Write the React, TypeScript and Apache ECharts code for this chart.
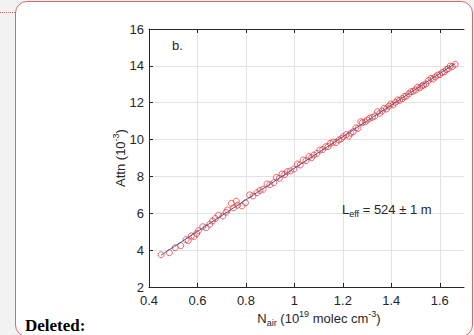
import React, { useEffect, useRef } from 'react';
import * as echarts from 'echarts';

// N_air (1e19 molec cm^-3)
const nAir: number[] = [
  0.450, 0.484, 0.508, 0.531, 0.553, 0.562, 0.575, 0.586, 0.597, 0.604,
  0.622, 0.636, 0.651, 0.662, 0.674, 0.687, 0.705, 0.718, 0.724, 0.740,
  0.749, 0.760, 0.766, 0.784, 0.798, 0.815, 0.829, 0.846, 0.858, 0.871,
  0.887, 0.899, 0.915, 0.926, 0.938, 0.949, 0.960, 0.970, 0.984, 0.998,
  1.012, 1.024, 1.036, 1.048, 1.060, 1.071, 1.080, 1.093, 1.105, 1.117,
  1.129, 1.139, 1.149, 1.160, 1.172, 1.184, 1.194, 1.202, 1.214, 1.225,
  1.233, 1.243, 1.254, 1.263, 1.274, 1.281, 1.292, 1.301, 1.310, 1.322,
  1.332, 1.343, 1.352, 1.362, 1.370, 1.380, 1.390, 1.398, 1.407, 1.417,
  1.426, 1.434, 1.445, 1.453, 1.462, 1.472, 1.481, 1.490, 1.500, 1.508,
  1.517, 1.526, 1.533, 1.543, 1.553, 1.564, 1.572, 1.582, 1.591, 1.600,
  1.610, 1.619, 1.627, 1.635, 1.643, 1.652, 1.664,
];

// Attn (1e-3)
const attn: number[] = [
  3.75, 3.86, 4.13, 4.24, 4.57, 4.52, 4.77, 4.74, 4.90, 5.05,
  5.27, 5.22, 5.40, 5.58, 5.72, 5.90, 5.85, 6.06, 6.18, 6.54,
  6.30, 6.66, 6.44, 6.40, 6.57, 7.00, 6.94, 7.12, 7.24, 7.30,
  7.59, 7.55, 7.66, 7.95, 7.90, 8.13, 8.10, 8.26, 8.30, 8.40,
  8.67, 8.62, 8.89, 8.86, 9.07, 9.02, 9.16, 9.25, 9.43, 9.46,
  9.61, 9.62, 9.80, 9.86, 9.84, 9.98, 10.05, 10.16, 10.27, 10.19,
  10.35, 10.43, 10.64, 10.61, 10.97, 10.92, 10.96, 11.06, 11.15, 11.21,
  11.28, 11.51, 11.42, 11.55, 11.70, 11.66, 11.82, 11.93, 11.88, 12.02,
  12.15, 12.12, 12.22, 12.33, 12.36, 12.48, 12.60, 12.62, 12.69, 12.84,
  12.80, 12.90, 12.96, 13.02, 13.20, 13.32, 13.28, 13.40, 13.50, 13.52,
  13.64, 13.68, 13.80, 13.84, 13.99, 13.96, 14.08,
];

const xTicks: number[] = [0.4, 0.6, 0.8, 1.0, 1.2, 1.4, 1.6];

const panelLabel = 'b.';
const fitLabel = '524 ± 1 m';

const FONT = '"Liberation Sans", Arial, Helvetica, sans-serif';
const TXT = '#262626';
const GRID = '#e3e3e3';

function linearFit(xs: number[], ys: number[]) {
  const n = xs.length;
  let sx = 0, sy = 0, sxx = 0, sxy = 0;
  for (let i = 0; i < n; i++) {
    sx += xs[i]; sy += ys[i]; sxx += xs[i] * xs[i]; sxy += xs[i] * ys[i];
  }
  const b = (n * sxy - sx * sy) / (n * sxx - sx * sx);
  const a = (sy - b * sx) / n;
  return { a, b };
}

export default function App() {
  const ref = useRef<HTMLDivElement>(null);

  useEffect(() => {
    if (!ref.current) return;
    const chart = echarts.init(ref.current, undefined, { renderer: 'svg' });
    const { a, b } = linearFit(nAir, attn);
    const xmin = Math.min(...nAir);
    const xmax = Math.max(...nAir);
    const points = nAir.map((x, i) => [x, attn[i]]);

    const richBase = {
      n: { fontSize: 13, lineHeight: 18, color: TXT, fontFamily: FONT, fontWeight: 'normal' as const, verticalAlign: 'middle' as const },
      s: { fontSize: 9, lineHeight: 9, color: TXT, fontFamily: FONT, fontWeight: 'normal' as const, verticalAlign: 'bottom' as const },
      p: { fontSize: 9, lineHeight: 9, color: TXT, fontFamily: FONT, fontWeight: 'normal' as const, verticalAlign: 'top' as const },
    };

    const splitColors = xTicks.map(() => GRID).concat(['rgba(0,0,0,0)']);

    chart.setOption({
      animation: false,
      backgroundColor: 'transparent',
      textStyle: { fontFamily: FONT },
      title: {
        text: `{n|L}{s|eff}{n| = ${fitLabel}}`,
        left: 342,
        top: 200,
        padding: 0,
        textStyle: { fontWeight: 'normal', rich: richBase },
      },
      grid: { left: 149, top: 29, width: 315, height: 258, containLabel: false },
      xAxis: [
        {
          type: 'value',
          min: 0.4,
          max: 1.7,
          interval: 0.2,
          position: 'bottom',
          axisLine: { show: true, lineStyle: { color: TXT, width: 1 } },
          axisTick: { show: true, inside: true, length: 4, lineStyle: { color: TXT }, customValues: xTicks },
          axisLabel: {
            show: true, margin: 7, fontSize: 13, color: TXT, fontFamily: FONT,
            customValues: xTicks,
            formatter: (v: number) => (Math.round(v * 10) / 10).toString(),
          },
          splitLine: { show: true, lineStyle: { color: splitColors, width: 1 } },
          name: '{n|N}{s|air}{n| (10}{p|19}{n| molec cm}{p|-3}{n|)}',
          nameLocation: 'middle',
          nameGap: 22,
          nameMoveOverlap: false,
          nameTextStyle: { rich: richBase, padding: [0, 0, 0, 25] },
        },
        {
          type: 'value',
          min: 0.4,
          max: 1.7,
          interval: 0.2,
          position: 'top',
          axisLine: { show: true, lineStyle: { color: TXT, width: 1 } },
          axisTick: { show: true, inside: true, length: 4, lineStyle: { color: TXT }, customValues: xTicks },
          axisLabel: { show: false },
          splitLine: { show: false },
        },
      ],
      yAxis: {
        type: 'value',
        min: 2,
        max: 16,
        interval: 2,
        axisLine: { show: true, lineStyle: { color: TXT, width: 1 } },
        axisTick: { show: true, inside: true, length: 4, lineStyle: { color: TXT } },
        axisLabel: { show: true, margin: 5, fontSize: 13, color: TXT, fontFamily: FONT },
        splitLine: { show: true, lineStyle: { color: GRID, width: 1 } },
        name: '{n|Attn (10}{p|-3}{n|)}',
        nameLocation: 'middle',
        nameGap: 20,
        nameMoveOverlap: false,
        nameTextStyle: { rich: richBase },
      },
      series: [
        {
          type: 'scatter',
          name: 'Attn',
          data: points,
          symbol: 'circle',
          symbolSize: 6,
          itemStyle: { color: 'rgba(0,0,0,0)', borderColor: '#f02828', borderWidth: 0.9 },
          z: 2,
        },
        {
          type: 'line',
          name: 'Fit',
          data: [[xmin, a + b * xmin], [xmax, a + b * xmax]],
          showSymbol: false,
          symbol: 'none',
          lineStyle: { color: '#3a5ca4', width: 1 },
          z: 3,
        },
      ],
      graphic: [
        {
          type: 'text',
          left: 172,
          top: 39,
          style: { text: panelLabel, fill: TXT, font: `13px ${FONT}` },
        },
        {
          type: 'text',
          left: 25,
          top: 317,
          style: {
            text: 'Deleted:',
            fill: '#000',
            font: 'bold 17px "Liberation Serif", "Times New Roman", serif',
          },
        },
      ],
    });
    return () => chart.dispose();
  }, []);

  return (
    <div style={{ position: 'absolute', left: 0, top: 0, width: 474, height: 335, background: '#f2f2f2', overflow: 'hidden' }}>
      <div style={{ position: 'absolute', left: 0, top: 12, width: 15, height: 0, borderTop: '1px dotted #e06666' }} />
      <div style={{ position: 'absolute', left: 15, top: 1, width: 458, height: 336, boxSizing: 'border-box', border: '1px solid #e06666', borderRadius: 12, background: '#fff' }} />
      <div ref={ref} style={{ position: 'absolute', left: 0, top: 0, width: 474, height: 335 }} />
    </div>
  );
}
